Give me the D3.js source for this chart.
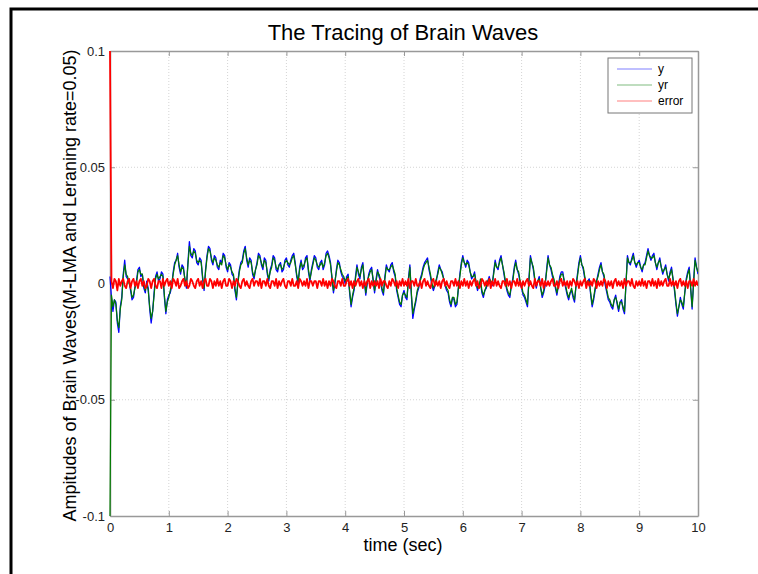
<!DOCTYPE html>
<html>
<head>
<meta charset="utf-8">
<script src="https://cdn.jsdelivr.net/npm/d3@7"></script>
<style>
  body { margin: 0; background: #fff; }
  svg { display: block; font-family: "Liberation Sans", Arial, sans-serif; }
  .axis path, .axis line { stroke: #999; }
  .grid line { stroke: #d4d4d4; stroke-dasharray: 1,2; }
</style>
</head>
<body>
<div class="chart"></div>
<script>
// sampling step of the traces (sec)
const dt = 0.025;

// amplitudes, in units of 1e-3
const yVals = [
  3,-6,-12,-7,-8,-17,-21,-10,-6,4,10,3,2,1,-3,-7,-6,-1,1,6,
  7,3,4,-2,-4,1,-2,-11,-17,-12,-4,3,5,1,2,5,4,-6,-13,-7,
  -5,-4,-1,5,9,10,13,7,4,8,7,1,-2,9,18,12,11,15,14,9,
  8,11,10,2,-3,6,12,16,15,10,8,12,11,7,6,10,9,13,12,7,
  5,9,8,4,3,-3,-7,1,6,9,10,14,16,10,7,11,10,4,2,6,
  9,13,12,8,6,11,10,4,1,6,8,12,11,6,5,8,9,5,6,10,
  11,8,7,10,12,13,9,3,0,7,10,6,7,11,12,5,1,6,9,12,
  11,7,6,9,10,6,8,13,14,12,9,2,-4,0,6,10,9,5,3,2,
  0,3,4,-4,-10,-6,-3,3,8,4,2,7,9,1,-5,0,4,6,7,1,
  -4,2,6,3,1,-3,-5,3,8,6,5,8,9,5,3,-3,-6,-9,-10,-5,
  -3,-6,-7,2,8,-5,-15,-11,-8,-4,-2,2,4,7,9,10,11,6,3,-1,
  -3,-1,1,5,8,6,5,2,-1,-3,-4,-8,-10,-6,-7,-10,-9,-2,4,9,
  12,9,7,10,9,5,2,3,5,0,-3,-1,1,-4,-6,-3,-2,1,3,0,
  -1,5,10,7,6,10,12,8,4,0,-3,-5,-6,-1,2,7,10,6,4,0,
  -2,-5,-6,-8,-10,2,12,9,6,1,-2,1,3,-2,-6,-4,-1,6,12,8,
  6,3,1,-2,-5,-1,3,5,5,1,-2,-5,-7,-4,-3,-6,-8,-1,4,9,
  12,8,6,2,-1,1,2,-5,-10,-7,-3,1,4,7,9,5,3,-1,-4,-7,
  -8,-10,-11,-7,-5,-9,-12,-8,-7,-11,-13,0,12,9,8,11,13,9,7,9,
  10,7,5,8,9,12,15,12,10,12,13,9,6,9,11,7,4,6,8,4,
  1,5,7,2,-3,-9,-14,-10,-6,-9,-11,-4,2,5,7,-2,-11,1,11,7,
  4
];

const yrVals = [
  -100,-5,-10,-7,-9,-16,-19,-11,-7,3,8,4,3,0,-2,-6,-5,-2,0,5,
  6,4,4,-1,-3,0,-3,-10,-15,-12,-5,2,4,2,3,4,3,-5,-12,-8,
  -6,-3,0,4,8,10,12,8,5,7,6,2,-1,8,16,13,12,14,13,10,
  9,10,9,3,-2,5,11,15,14,11,9,11,10,8,7,9,8,12,11,8,
  6,8,7,5,4,-2,-6,0,5,8,9,13,15,11,8,10,9,5,3,6,
  8,12,11,9,7,10,9,5,2,5,7,11,10,7,6,8,8,6,7,9,
  10,9,8,9,11,12,8,4,1,6,9,7,8,10,11,6,2,5,8,11,
  10,8,7,8,9,7,9,12,13,11,8,3,-3,1,5,9,8,6,4,3,
  1,2,3,-3,-9,-5,-2,2,7,5,3,6,8,2,-4,1,3,5,6,2,
  -3,1,5,4,2,-2,-4,2,7,6,6,7,8,6,4,-2,-5,-8,-9,-5,
  -4,-5,-6,1,7,-4,-13,-10,-7,-3,-1,1,3,6,8,9,10,7,4,0,
  -2,0,2,4,7,6,4,2,0,-2,-3,-7,-9,-6,-6,-9,-8,-2,3,8,
  11,9,8,9,8,5,3,3,4,1,-2,-1,2,-3,-5,-3,-1,1,2,1,
  0,4,9,7,7,9,11,8,5,1,-2,-4,-5,-1,1,6,9,6,5,1,
  -1,-4,-5,-7,-9,1,11,9,7,2,-1,1,2,-2,-5,-3,0,5,11,8,
  7,4,2,-1,-4,-1,2,4,4,1,-1,-4,-6,-4,-2,-5,-7,-1,3,8,
  11,8,7,3,0,1,1,-4,-9,-6,-2,1,3,6,8,5,4,0,-3,-6,
  -7,-9,-10,-7,-6,-8,-11,-8,-8,-10,-12,0,11,9,9,10,12,9,8,9,
  9,7,6,8,8,11,14,12,11,11,12,9,7,9,10,7,5,6,7,4,
  2,4,6,2,-2,-8,-13,-10,-7,-8,-10,-4,1,4,6,-2,-10,0,10,7,
  5
];

const errVals = [
  100,1,-2,2,1,-3,2,-1,1,2,-1,-2,1,2,-2,1,2,-1,1,-2,
  1,2,-1,1,-2,-1,2,1,-2,1,2,-1,-2,1,1,-2,2,-1,1,2,
  -1,1,-2,2,1,-1,2,-2,-1,1,2,-1,1,-2,-1,2,1,-1,-2,1,
  2,-1,1,-2,1,2,-1,-1,2,1,-2,1,-1,2,-1,1,-2,1,2,-1,
  -1,2,1,-2,1,-1,2,1,-1,-2,1,2,-1,1,-1,-2,1,2,-1,1,
  1,-1,2,-2,1,1,-1,2,-1,-2,1,1,-1,2,-2,1,-1,1,2,-1,
  -2,1,1,-1,2,-1,-1,1,-2,2,1,-1,1,-1,2,-2,1,1,-1,1,
  1,-2,1,1,-1,2,-1,1,-2,1,-1,2,1,-1,-2,1,1,-1,2,-1,
  -1,1,2,-1,1,-2,1,-1,1,2,-1,1,-2,1,-1,1,2,-2,1,-1,
  1,-1,1,-2,2,-1,1,1,-1,-2,1,-1,2,1,-1,1,-2,1,-1,2,
  -1,1,-1,2,-2,1,1,-1,2,-1,-1,1,-2,1,2,-1,1,-1,-2,1,
  2,-1,1,-1,1,-2,1,2,-1,1,-1,-2,1,1,-1,2,-1,1,-2,1,
  -1,2,-1,1,-2,1,-1,1,2,-1,1,-2,-1,2,1,-1,1,-1,2,-2,
  1,-1,2,-1,1,-1,-2,1,1,-1,2,-1,1,-2,1,1,-1,2,-1,1,
  -2,1,-1,1,2,-1,1,-1,-2,2,-1,1,1,-1,2,-2,1,-1,1,-1,
  1,2,-1,-1,1,-2,1,2,-1,1,-1,1,-2,1,-1,2,1,-1,1,-2,
  1,-1,1,2,-2,1,-1,1,-1,2,1,-2,1,-1,1,-1,2,1,-2,1,
  -1,1,-2,1,2,-1,1,-1,1,-2,2,-1,1,1,-1,2,-1,-2,1,-1,
  1,-1,2,-1,1,-2,1,1,-1,2,-1,1,-2,2,-1,1,-1,1,2,-1,
  -1,2,-1,1,-1,1,-2,1,2,-1,1,-1,1,-2,1,1,-1,2,-1,1,
  -1
];

const xTicks = [0,1,2,3,4,5,6,7,8,9,10];
const yTicks = [-0.1,-0.05,0,0.05,0.1];

const series = [
  {name: "y", values: yVals, color: "#0000ff", w: 1.3},
  {name: "yr", values: yrVals, color: "#007a00", w: 1.2},
  {name: "error", values: errVals, color: "#ff0000", w: 1.8}
];

var margin = ({top: 51, right: 60, bottom: 58, left: 110});
var width = 758 - margin.left - margin.right,
    height = 574 - margin.top - margin.bottom;

var root = d3.select(".chart").append("svg")
    .attr("width", 758)
    .attr("height", 574);

// figure frame
root.append("rect")
    .attr("x", 11).attr("y", 9)
    .attr("width", 800).attr("height", 600)
    .attr("fill", "none")
    .attr("stroke", "#000")
    .attr("stroke-width", 3);

var svg = root.append("g")
    .attr("transform", "translate(" + margin.left + "," + margin.top + ")");

const xScale = d3.scaleLinear().domain([0, 10]).range([0, width]);
const yScale = d3.scaleLinear().domain([-0.1, 0.1]).range([height, 0]);

// grid
const grid = svg.append("g").attr("class", "grid");
grid.selectAll(".vx")
    .data(xTicks.slice(1, -1))
    .join("line")
    .attr("x1", d => xScale(d)).attr("x2", d => xScale(d))
    .attr("y1", 0).attr("y2", height);
grid.selectAll(".hy")
    .data(yTicks.slice(1, -1))
    .join("line")
    .attr("x1", 0).attr("x2", width)
    .attr("y1", d => yScale(d)).attr("y2", d => yScale(d));

// axes (box with inward ticks)
const fmt = d => String(+d.toFixed(2));

svg.append("g")
    .attr("class", "axis x-axis")
    .attr("transform", `translate(0, ${height})`)
    .call(d3.axisBottom(xScale).tickValues(xTicks).tickSizeInner(-5).tickSizeOuter(0).tickPadding(7));

svg.append("g")
    .attr("class", "axis")
    .call(d3.axisTop(xScale).tickValues(xTicks).tickSizeInner(-5).tickSizeOuter(0).tickFormat(""));

svg.append("g")
    .attr("class", "axis y-axis")
    .call(d3.axisLeft(yScale).tickValues(yTicks).tickSizeInner(-5).tickSizeOuter(0).tickPadding(5).tickFormat(fmt));

svg.append("g")
    .attr("class", "axis")
    .attr("transform", `translate(${width}, 0)`)
    .call(d3.axisRight(yScale).tickValues(yTicks).tickSizeInner(-5).tickSizeOuter(0).tickFormat(""));

svg.selectAll(".axis .domain").attr("stroke-width", 1.5);
svg.selectAll(".axis text")
    .style("font-family", "'Liberation Sans', Arial, sans-serif")
    .style("font-size", "13px")
    .style("fill", "#222");

// traces, drawn over the axis box
svg.append("clipPath").attr("id", "clip")
    .append("rect").attr("x", -1).attr("y", -1)
    .attr("width", width + 1).attr("height", height + 2);

const line = d3.line()
    .x((d, i) => xScale(i * dt))
    .y(d => yScale(d * 1e-3));

svg.append("g").attr("clip-path", "url(#clip)")
    .selectAll("path")
    .data(series)
    .join("path")
    .attr("d", d => line(d.values))
    .attr("fill", "none")
    .attr("stroke", d => d.color)
    .attr("stroke-width", d => d.w)
    .attr("stroke-linejoin", "round");

// titles
svg.append("text")
    .attr("x", width / 2 - 1)
    .attr("y", -11)
    .attr("text-anchor", "middle")
    .style("font-size", "22px")
    .text("The Tracing of Brain Waves");

svg.append("text")
    .attr("x", width / 2 - 1)
    .attr("y", height + 35)
    .attr("text-anchor", "middle")
    .style("font-size", "18px")
    .text("time (sec)");

svg.append("text")
    .attr("transform", `translate(-34, ${yScale(0) + 2}) rotate(-90)`)
    .attr("text-anchor", "middle")
    .style("font-size", "18px")
    .text("Ampitudes of Brain Waves(M-LMA and Leraning rate=0.05)");

// legend
const legend = svg.append("g")
    .attr("transform", `translate(${width - 90}, 7)`);
legend.append("rect")
    .attr("width", 84).attr("height", 55)
    .attr("fill", "#fff")
    .attr("stroke", "#777");
const item = legend.selectAll(".item")
    .data(series)
    .join("g")
    .attr("transform", (d, i) => `translate(0, ${11 + i * 16})`);
item.append("line")
    .attr("x1", 9).attr("x2", 44)
    .attr("stroke", d => d.color)
    .attr("stroke-opacity", 0.5);
item.append("text")
    .attr("x", 50).attr("dy", "0.35em")
    .style("font-size", "12px")
    .text(d => d.name);
</script>
</body>
</html>
